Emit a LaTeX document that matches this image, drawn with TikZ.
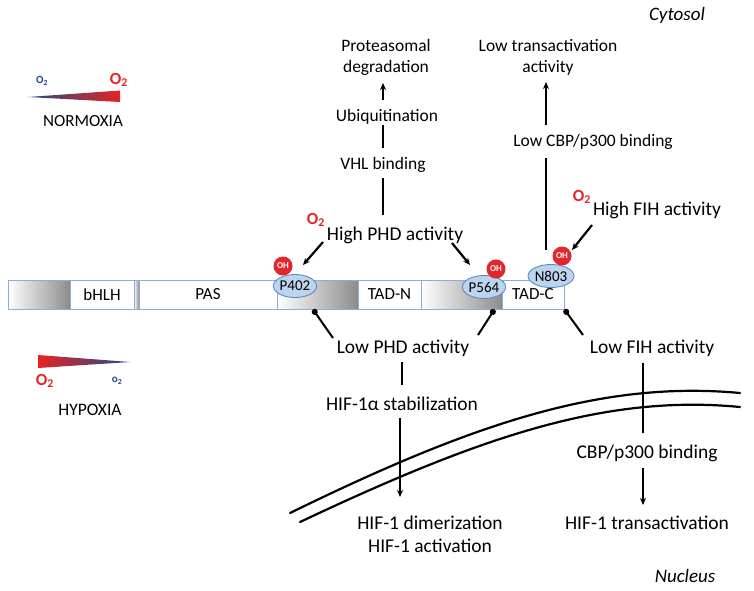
\documentclass[tikz,border=0pt]{standalone}
\usepackage{fontspec}
\setmainfont{Carlito}
\usetikzlibrary{arrows.meta,shapes.geometric,calc}
\definecolor{barblue}{HTML}{8AAEDB}
\definecolor{segray}{HTML}{8C8C8C}
\definecolor{ellfill}{HTML}{BDD3EE}
\definecolor{elldraw}{HTML}{5B8CC7}
\definecolor{ohred}{HTML}{E3262B}
\definecolor{o2red}{HTML}{E52421}
\definecolor{o2blue}{HTML}{1F4A87}
\newcommand\fsz[2]{\fontsize{#1}{#2}\selectfont}
\begin{document}
\begin{tikzpicture}[x=1pt,y=-1pt,
  seg/.style={draw=barblue, line width=0.9pt, minimum height=29pt, inner sep=0pt, font=\fsz{17}{20}},
  ell/.style={ellipse, draw=elldraw, fill=ellfill, line width=0.9pt, minimum width=38pt, minimum height=23pt, inner sep=0pt, font=\fsz{15}{17}},
  ohc/.style={circle, fill=ohred, text=white, font=\bfseries\fsz{9}{10}, inner sep=0pt, minimum size=19pt},
  lbl/.style={font=\fsz{17.5}{21}, inner sep=1pt, align=center},
  lblb/.style={font=\fsz{19.5}{23}, inner sep=1pt, align=center},
  oxr/.style={font=\bfseries\fsz{17}{20}, text=o2red, inner sep=0pt},
  oxs/.style={font=\bfseries\fsz{11}{13}, inner sep=0pt},
  arr/.style={line width=2.2pt, -{Stealth[length=7pt,width=6pt]}},
  ln/.style={line width=2.2pt},
  dotln/.style={line width=2pt, {Circle[length=6pt]}-},
  memb/.style={line width=2.2pt, line cap=round}
]
\useasboundingbox (0,0) rectangle (754,590);

% legends
\shade[left color=o2blue, right color=o2red] (28,97) -- (120,90.5) -- (120,102) -- cycle;
\node[oxs, text=o2blue] (nlo) at (42,81) {O\textsubscript{2}};
\node[oxr] (nhi) at (119,80) {O\textsubscript{2}};
\node[lbl, font=\fsz{17}{20}] (norm) at (83,121) {NORMOXIA};

\shade[left color=o2red, right color=o2blue] (38,355) -- (130,362) -- (38,368) -- cycle;
\node[oxr] (hhi) at (45,381) {O\textsubscript{2}};
\node[oxs, text=o2blue] (hlo) at (117,381) {o\textsubscript{2}};
\node[lbl, font=\fsz{17.5}{20}] (hyp) at (90,410) {HYPOXIA};

% bar
\node[seg, left color=white, right color=segray, minimum width=62pt] (g1) at (39,294.5) {};
\node[seg, minimum width=64pt] (bhlh) at (102,294.5) {bHLH};
\node[seg, left color=white, right color=segray, minimum width=5pt] (g2) at (136.5,294.5) {};
\node[seg, minimum width=138pt] (pas) at (208,294.5) {PAS};
\node[seg, left color=white, right color=segray, minimum width=81pt] (g3) at (317.5,294.5) {};
\node[seg, minimum width=63pt] (tadn) at (389.5,294.5) {TAD-N};
\node[seg, left color=white, right color=segray, minimum width=81pt] (g4) at (461.5,294.5) {};
\node[seg, minimum width=62pt] (tadc) at (533,294.5) {TAD-C};

% sites
\node[ell] (p402) at (295,286) {P402};
\node[ell] (p564) at (484,287) {P564};
\node[ell] (n803) at (551,276) {N803};
\node[ohc] (oh1) at (283,266) {OH};
\node[ohc] (oh2) at (496,269) {OH};
\node[ohc] (oh3) at (562,256) {OH};

% top labels
\node[font=\itshape\fsz{19}{22}] (cyt) at (677,15) {Cytosol};
\node[lbl] (pd) at (386,57) {Proteasomal\\degradation};
\node[lbl] (ub) at (387,117) {Ubiquitination};
\node[lbl] (vhl) at (383,165) {VHL binding};
\node[lblb] (hphd) at (395,235) {High PHD activity};
\node[oxr] (o2a) at (316,220) {O\textsubscript{2}};
\node[lbl] (lta) at (548,57) {Low transactivation\\activity};
\node[lbl] (lcbp) at (593,142) {Low CBP/p300 binding};
\node[lblb] (hfih) at (657,210) {High FIH activity};
\node[oxr] (o2b) at (582,197) {O\textsubscript{2}};

% bottom labels
\node[lblb] (lphd) at (403,348) {Low PHD activity};
\node[lblb] (stab) at (402,404) {HIF-1α stabilization};
\node[lblb] (dimer) at (430,534) {HIF-1 dimerization\\HIF-1 activation};
\node[lblb] (lfih) at (652,348) {Low FIH activity};
\node[lblb] (cbp) at (647,453) {CBP/p300 binding};
\node[lblb] (trans) at (647,523) {HIF-1 transactivation};
\node[font=\itshape\fsz{19}{22}] (nuc) at (685,576) {Nucleus};

% nuclear membrane
\draw[memb] (290,513) .. controls (470,425) and (600,380) .. (740,393);
\draw[memb] (300,522) .. controls (480,437) and (605,394) .. (740,407);

% connectors top
\draw[arr] ($(ub)+(-4,-17)$) -- ($(pd)+(-3,26)$);
\draw[ln] ($(vhl)+(0,-17)$) -- ($(ub)+(-4,8)$);
\draw[ln] ($(hphd)+(-12,-20)$) -- ($(vhl)+(0,13)$);
\draw[arr] ($(hphd)+(-72,7)$) -- ($(p402)+(8,-21)$);
\draw[arr] ($(hphd)+(57,8)$) -- ($(p564)+(-14,-22)$);
\draw[ln] ($(n803)+(-5,-26)$) -- ($(lcbp)+(-47,16)$);
\draw[arr] ($(lcbp)+(-47,-17)$) -- ($(lta)+(-2,25)$);
\draw[arr] ($(hfih)+(-65,15)$) -- ($(oh3)+(10,-6)$);

% connectors bottom
\draw[dotln] ($(g3.south)+(-4.5,0)$) -- ($(lphd)+(-70,-10)$);
\draw[dotln] ($(g4.south east)+(-8,0)$) -- ($(lphd)+(75,-13)$);
\draw[dotln] (tadc.south east) -- ($(lfih)+(-69,-13)$);
\draw[ln] ($(lphd)+(-1,14)$) -- ($(stab)+(0,-19)$);
\draw[arr] ($(stab)+(-2,14)$) -- ($(dimer)+(-30,-37)$);
\draw[ln] ($(lfih)+(-9,15)$) -- ($(cbp)+(-4,-20)$);
\draw[arr] ($(cbp)+(-4,15)$) -- ($(trans)+(-4,-18)$);
\end{tikzpicture}
\end{document}
